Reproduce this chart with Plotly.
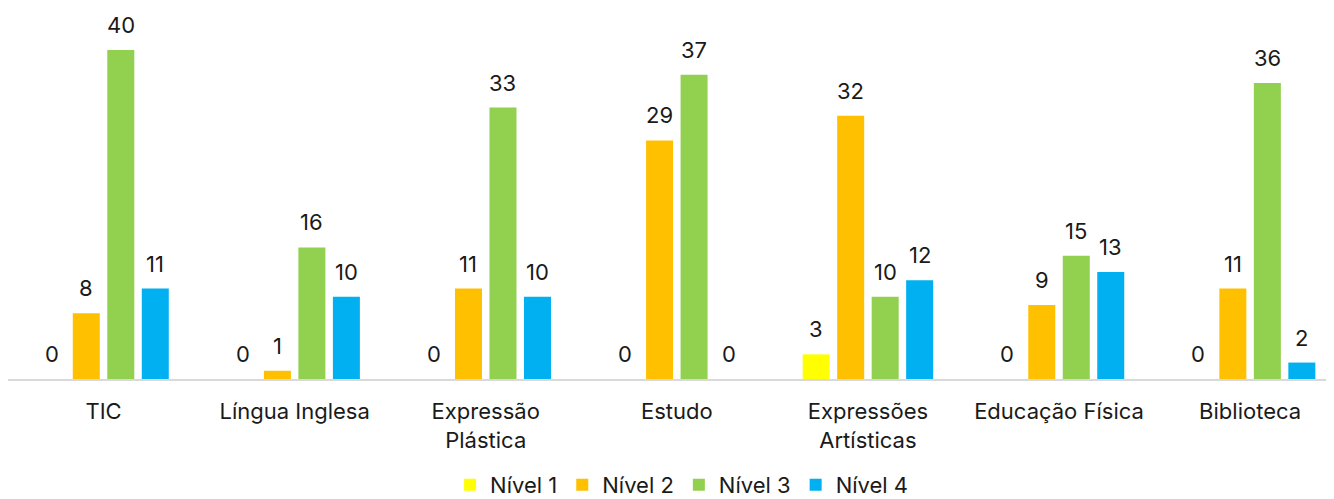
import plotly.graph_objects as go

categories = ["TIC", "Língua Inglesa", "Expressão<br>Plástica", "Estudo",
              "Expressões<br>Artísticas", "Educação Física", "Biblioteca"]
series_names = ["Nível 1", "Nível 2", "Nível 3", "Nível 4"]
nivel1 = [0, 0, 0, 0, 3, 0, 0]
nivel2 = [8, 1, 11, 29, 32, 9, 11]
nivel3 = [40, 16, 33, 37, 10, 15, 36]
nivel4 = [11, 10, 10, 0, 12, 13, 2]
colors = ["#FFFF00", "#FFC000", "#92D050", "#00B0F0"]

series = [nivel1, nivel2, nivel3, nivel4]
FONT = "Inter"
W, H = 1326, 491
ml, mr, mt, mb = 0, 0, 42, 120
bargap = 0.278
bargroupgap = 0.217
xrange_ = [-0.5, 6.439]

fig = go.Figure()
for name, vals, col in zip(series_names, series, colors):
    fig.add_trace(go.Bar(x=categories, y=vals, name=name, marker_color=col,
                         marker_line_width=0))

plot_w = W - ml - mr
cat_px = plot_w / (xrange_[1] - xrange_[0])
slot = cat_px * (1 - bargap) / len(series)
for k, vals in enumerate(series):
    for c, v in zip(categories, vals):
        fig.add_annotation(x=c, y=v, xref="x", yref="y", text=str(v),
                           showarrow=False, yanchor="bottom",
                           xshift=(k - 1.5) * slot, yshift=10,
                           font=dict(family=FONT, size=22, color="#1a1a1a"))

fig.update_layout(
    width=W, height=H,
    margin=dict(l=ml, r=mr, t=mt, b=mb, autoexpand=False),
    paper_bgcolor="white", plot_bgcolor="white",
    barmode="group", bargap=bargap, bargroupgap=bargroupgap,
    font=dict(family=FONT, size=22, color="#1a1a1a"),
    showlegend=True,
    legend=dict(orientation="h", x=0.508, xanchor="center", y=-0.322,
                yanchor="middle", font=dict(family=FONT, size=22, color="#1a1a1a"),
                itemwidth=30, traceorder="normal"),
    xaxis=dict(type="category", range=xrange_, showgrid=False, ticks="",
               showline=True, linecolor="#d9d9d9", linewidth=2,
               ticklabelstandoff=12, tickfont=dict(family=FONT, size=22),
               automargin=False),
    yaxis=dict(range=[0, 40], visible=False, showgrid=False, zeroline=False),
)

fig.write_html("out.html")
